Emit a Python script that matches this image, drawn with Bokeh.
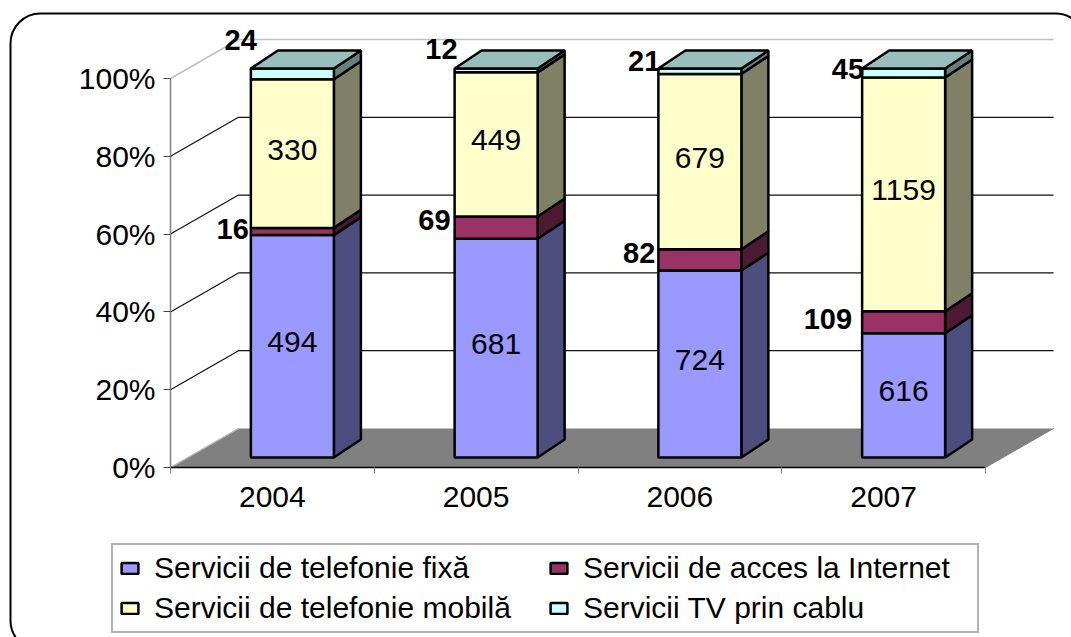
from bokeh.plotting import figure
from bokeh.embed import file_html
from bokeh.resources import INLINE
from bokeh.core.properties import value
from bokeh.models import (ColumnDataSource, Range1d, FixedTicker, PrintfTickFormatter,
                          Legend, LegendItem, BoxAnnotation)

# ---- data ----
years = ["2004", "2005", "2006", "2007"]
fixa = [494, 681, 724, 616]
internet = [16, 69, 82, 109]
mobila = [330, 449, 679, 1159]
cablu = [24, 12, 21, 45]
series_names = ["Servicii de telefonie fixă", "Servicii de acces la Internet",
                "Servicii de telefonie mobilă", "Servicii TV prin cablu"]
pct_ticks = [0, 20, 40, 60, 80, 100]

# ---- styles ----
front_cols = ["#9999FF", "#993366", "#FFFFCC", "#CCFFFF"]
side_cols = ["#4D4D80", "#4D1A33", "#808066", "#668080"]
top_col = "#99BFBD"
FONT = "Liberation Sans"

# ---- projection of the 3D chart: pixel scale of the axes and depth shifts ----
PX_PER_CAT = 203.75
PX_PER_PCT = 3.89
W, H = 1071, 637
ML, MB = 170, 170
cat = lambda px: px / PX_PER_CAT
pct = lambda px: px / PX_PER_PCT
WALL_DX, WALL_DY = cat(68), pct(39)
BAR_DX, BAR_DY = cat(27), pct(18)
BAR_OFF_X, BAR_OFF_Y = cat(20), pct(10)
BAR_W = cat(83)

# Marks figure: its frame is the whole canvas, so border and legend are not clipped.
p = figure(width=W, height=H, output_backend="svg", toolbar_location=None,
           x_range=Range1d(-ML / PX_PER_CAT, (W - ML) / PX_PER_CAT),
           y_range=Range1d(-MB / PX_PER_PCT, (H - MB) / PX_PER_PCT),
           x_axis_location=None, y_axis_location=None,
           min_border=0, outline_line_color=None,
           background_fill_color="white", border_fill_color="white")
p.grid.visible = False

# rounded chart-area frame
p.add_layout(BoxAnnotation(left=10, right=1085, top=13, bottom=650,
                           left_units="canvas", right_units="canvas",
                           top_units="canvas", bottom_units="canvas",
                           border_radius=30, fill_color=None, fill_alpha=0,
                           line_color="black", line_alpha=1, line_width=2))

n = len(years)
# floor
p.patch([0, n, n + WALL_DX, WALL_DX], [0, 0, WALL_DY, WALL_DY],
        fill_color="#808080", line_color="#808080", line_width=1)
# wall gridlines
for t in pct_ticks:
    col = "#C0C0C0" if t in (0, 100) else "#111111"
    p.line([0, WALL_DX, n + WALL_DX], [t, t + WALL_DY, t + WALL_DY], line_color=col, line_width=1.5 if t == 100 else 1.2)

# stacks as percentages
stacks = [fixa, internet, mobila, cablu]
totals = [sum(s[i] for s in stacks) for i in range(n)]
lefts = [i + 0.5 - BAR_W / 2 + BAR_OFF_X for i in range(n)]
rights = [l + BAR_W for l in lefts]
bottoms = [[], [], [], []]
tops = [[], [], [], []]
for i in range(n):
    acc = 0.0
    for k, s in enumerate(stacks):
        b = acc
        acc += 100.0 * s[i] / totals[i]
        bottoms[k].append(b + BAR_OFF_Y)
        tops[k].append(acc + BAR_OFF_Y)

renderers = []
for k in range(4):
    # side faces
    xs = [[r, r + BAR_DX, r + BAR_DX, r] for r in rights]
    ys = [[b, b + BAR_DY, t + BAR_DY, t] for b, t in zip(bottoms[k], tops[k])]
    p.patches(xs, ys, fill_color=side_cols[k], line_color="black", line_width=2.5)
    # front faces
    rn = p.quad(left=lefts, right=rights, bottom=bottoms[k], top=tops[k],
                fill_color=front_cols[k], line_color="black", line_width=2.5)
    renderers.append(rn)
# top faces
xs = [[l, r, r + BAR_DX, l + BAR_DX] for l, r in zip(lefts, rights)]
ys = [[t, t, t + BAR_DY, t + BAR_DY] for t in tops[3]]
p.patches(xs, ys, fill_color=top_col, line_color="black", line_width=2.5)

# labels inside the bars
for k in (0, 2):
    src = ColumnDataSource(dict(
        x=[(l + r) / 2 for l, r in zip(lefts, rights)],
        y=[(b + t) / 2 for b, t in zip(bottoms[k], tops[k])],
        t=[str(v) for v in stacks[k]]))
    p.text("x", "y", "t", source=src, text_font=value(FONT), text_font_size="30px",
           text_align="center", text_baseline="middle", text_color="black", y_offset=-4)

# bold labels beside the bars
net_nudge_x = [-2, -4, -3, -10]
net_nudge_y = [-2, -8, -7, -3]
tv_nudge_x = [6, 3, 2, 2]
tv_nudge_y = [-34, -21, -10, -4]
src = ColumnDataSource(dict(
    x=lefts, y=[(b + t) / 2 for b, t in zip(bottoms[1], tops[1])],
    t=[str(v) for v in internet], dx=net_nudge_x, dy=net_nudge_y))
p.text("x", "y", "t", source=src, text_font=value(FONT), text_font_size="29px", text_font_style="bold",
       text_align="right", text_baseline="middle", x_offset="dx", y_offset="dy")
src = ColumnDataSource(dict(
    x=lefts, y=[(b + t) / 2 for b, t in zip(bottoms[3], tops[3])],
    t=[str(v) for v in cablu], dx=tv_nudge_x, dy=tv_nudge_y))
p.text("x", "y", "t", source=src, text_font=value(FONT), text_font_size="29px", text_font_style="bold",
       text_align="right", text_baseline="middle", x_offset="dx", y_offset="dy")

# legend (columns fill first, so the order reads across the rows as in the original)
legend_order = [0, 2, 1, 3]
legend = Legend(items=[LegendItem(label=value(series_names[k]), renderers=[renderers[k]]) for k in legend_order],
                ncols=2, location=(111, 4), margin=0, padding=6, spacing=6,
                glyph_width=21, glyph_height=14, label_standoff=14, label_height=30, label_width=388,
                label_text_font=FONT, label_text_font_size="30px", label_text_color="black",
                border_line_color="#666666", border_line_width=2,
                background_fill_color="white", background_fill_alpha=1)
p.add_layout(legend, "center")

# Axes figure: transparent overlay on the same scale, with the real axes.
a = figure(width=W, height=H, output_backend="svg", toolbar_location=None,
           x_range=Range1d(0, (W - ML) / PX_PER_CAT),
           y_range=Range1d(0, (H - MB) / PX_PER_PCT),
           min_border_left=ML, min_border_bottom=MB, min_border_top=0, min_border_right=0,
           outline_line_color=None, background_fill_color=None, border_fill_color=None,
           styles={"position": "absolute", "left": "0px", "top": "0px"})
a.grid.visible = False

xa = a.xaxis[0]
xa.ticker = FixedTicker(ticks=[i + 0.5 for i in range(n)], minor_ticks=list(range(n + 1)))
xa.major_label_overrides = {i + 0.5: y for i, y in enumerate(years)}
xa.bounds = (0, n)
xa.major_tick_line_color = None
xa.major_tick_out = 0
xa.major_tick_in = 0
xa.minor_tick_out = 6
xa.minor_tick_in = 0
xa.minor_tick_line_color = "#808080"
xa.axis_line_color = "black"
xa.axis_line_width = 1.5
xa.major_label_standoff = 13
xa.major_label_text_font = FONT
xa.major_label_text_font_size = "30px"
xa.major_label_text_color = "black"

ya = a.yaxis[0]
ya.ticker = FixedTicker(ticks=pct_ticks)
ya.formatter = PrintfTickFormatter(format="%d%%")
ya.bounds = (0, 100)
ya.major_tick_out = 7
ya.major_tick_in = 0
ya.minor_tick_out = 0
ya.minor_tick_in = 0
ya.major_tick_line_color = "#444444"
ya.axis_line_color = "#808080"
ya.axis_line_width = 1.5
ya.major_label_standoff = 8
ya.major_label_text_font = FONT
ya.major_label_text_font_size = "30px"
ya.major_label_text_color = "black"

open("out.html", "w").write(file_html([p, a], INLINE))
